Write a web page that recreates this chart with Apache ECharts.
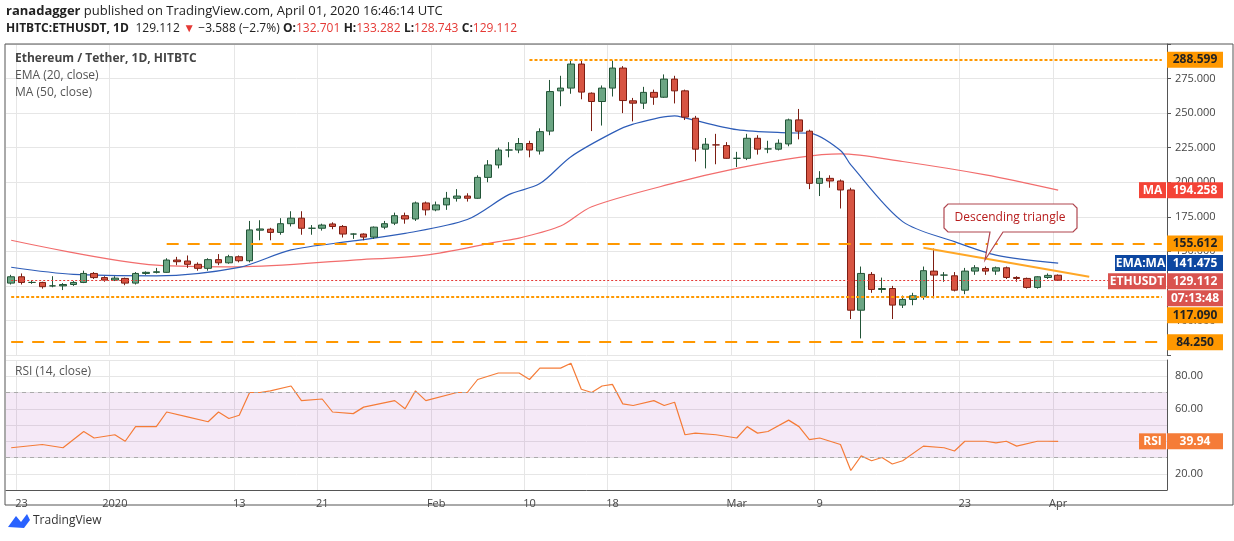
<!DOCTYPE html>
<html><head><meta charset="utf-8">
<script src="https://cdn.jsdelivr.net/npm/echarts@6/dist/echarts.min.js"></script>
<style>html,body{margin:0;padding:0;background:#fff}#main{width:1234px;height:541px}</style>
</head><body><div id="main"></div>
<script>
// daily candles Dec 22 2019 .. Apr 1 2020 : [open, close, low, high]
var candles = [
[127,131.6,126,133],[131.6,127.5,126,134],[127.5,127.5,126.5,129],[127.5,124.4,123,128],[125,125,124,132],
[125,126,122,127],[126,127.5,125,128.5],[127.5,134,127,136],[134,131,130,135],[131,129.2,128,132],
[129.2,130.6,128.5,132],[130.4,127,125.5,131],[127,134,126,135],[134,134.8,133,135.5],[134.8,135.2,134,138],
[134.8,143.7,134.5,145],[143.7,142.5,140,146],[143,140.6,138,147],[140.6,137.7,136,142],[137.7,144,136,145],
[144,141.7,140,148],[141.7,146.1,141,147.5],[146.1,143.2,142,147],[143.2,165.5,142,172],[165.3,166.2,158,172.5],
[166,163.7,158,167],[163.7,170,162,174],[170,174,168,179],[174,166.7,162,179],[166.7,166.7,162,169],
[166.7,169,165,170],[169.8,168,166,171],[168,162.5,160,169],[162.5,162.5,159,163],[162.5,160.3,158,163],
[160.3,167.5,159,168],[167.5,170,166,172],[170.4,175.8,169,178],[175.8,173.4,170,178],[173.4,185,172,186],
[185,180,176,186],[180,183.6,179,186],[183.6,188.4,180,193],[188.4,190,186,195],[190,188.4,186,192],
[188.4,203.5,188,205],[203.5,212.5,200,216],[212.5,223.3,210,225],[223.3,223.3,218,229],[223.3,228,221,232],
[228,223.3,218,230],[222.6,236.6,220,239],[237,265.6,234,274],
[266.1,268.1,255,277],[268.1,285.5,264,288.6],[285.5,265.2,260,288.6],[264.4,258.4,237,265],[258.4,268.1,241,270],
[268.1,282.6,262,288],[282.6,259.1,250,284],[258.9,257.2,244,261],[257.2,265,253,269],[265,261.5,256,267],
[261.5,274.6,261,278],[274.6,266.1,257,277],[266.1,247.1,245,267],[246.3,223.9,215,248],[223.9,227.5,210,232],
[227,227,213,235],[226.5,217.3,217,229],[217.3,217.3,211,222],[217.3,231.8,216,235],[231.8,223.9,220,234],
[224.1,224.1,221,230],[223.9,228.2,223,231],[227.7,245.1,226,246],[245.1,236.9,231,253],[236.9,199.2,195,238],
[199.2,202.8,190,208],[202.8,200.9,196,205],[200.9,194.4,181,202],[194.4,107.4,101,196],[107.4,134,87,139],
[133.3,122.4,120,135],[122.4,123.1,120,131],[123.1,111.1,101,125],[111.1,115.2,109,118],[115.2,117.8,111,120],
[117.1,136,115,139],[135.7,132.8,116,152],[132.8,132.8,128,135],[132.3,121.9,121,135],[121.9,135.7,119,138],
[135.7,138.1,133,140],[137.6,135.7,133,139],[135.7,138.1,133,139],[138.1,131.1,130,139],[131.1,130.4,128,132],
[130.4,123.9,123,131],[123.9,131.6,123,132],[131.1,132.6,130,134],[132.701,129.112,128.743,133.282]
];
var startDate = new Date(2019, 11, 22);
var totalDays = 112;
// EMA(20) and MA(50): [dayIndex, value]
var emaPoints = [[0,138.5],[6,133.3],[14,132.3],[22,138.4],[27,151],[33,157.5],[38,163],[44,173],[48,191],[51,199],[54,218.5],[58,235.7],[60,242],[64,248],[65,246.5],[70,238],[75,235.7],[77,235.5],[80,223],[81,212.5],[86,171.5],[91,157],[95,147.3],[101,141.475]];
var maPoints = [[0,158],[14,140],[22,138.8],[33,143.7],[40,147.3],[47,157],[49,159.6],[53,168.3],[56,182.3],[64,199.5],[70,210],[76,218],[80,220.5],[86,215],[94,205.3],[101,194.258]];
var rsiPoints = [[0,36],[3,38],[5,36],[7,38],[7,46],[8,42],[10,44],[11,40],[12,49],[14,49],[15,58],[17,55],[19,52],[20,58],[21,54],[22,56],[23,70],[24,70],[25,71],[27,74],[28,65],[30,66],[31,58],[33,57],[34,61],[37,65],[38,60],[39,71],[40,65],[43,70],[44,70],[45,78],[47,82],[49,82],[50,78],[51,85],[53,85],[54,88],[55,72],[56,70],[57,74],[58,75],[59,63],[60,62],[62,65],[63,62],[64,64],[65,44],[66,45],[68,44],[70,42],[71,49],[72,45],[73,46],[75,53],[76,49],[77,41],[78,42],[80,38],[81,22],[82,31],[83,28],[84,30],[85,26],[86,28],[88,37],[90,36],[91,34],[92,40],[94,40],[95,39],[96,40],[97,37],[99,40],[100,40],[101,39.94]];
var levelLines = [288.599, 155.612, 117.090, 84.250];
var triangle = [[88, 152.6], [104, 131.6]];
var xLabelDays = {1:'23',10:'2020',22:'13',30:'21',41:'Feb',50:'10',58:'18',70:'Mar',78:'9',92:'23',101:'Apr'};

var dates = [];
for (var i = 0; i < totalDays; i++) {
    var d = new Date(startDate.getTime() + i * 86400000);
    dates.push((d.getMonth()+1) + '/' + d.getDate());
}
function toSeries(points) {
    var arr = [];
    for (var i = 0; i < totalDays; i++) arr.push(null);
    points.forEach(function(p){ arr[p[0]] = p[1]; });
    return arr;
}
var candleData = candles.map(function(c){ return c; });
while (candleData.length < totalDays) candleData.push('-');

var orange = '#ff9800';
var gridLine = {show:true, lineStyle:{color:'#e6e6e6'}};
var labelFn = function(idx){ return xLabelDays[idx] !== undefined; };

var myChart = echarts.init(document.getElementById('main'));
var option = {
    animation: false,
    textStyle: {fontFamily: 'Open Sans'},
    grid: [
        {left: 6, right: 67, top: 44, height: 311},
        {left: 6, right: 67, top: 360, height: 130}
    ],
    xAxis: [
        {type:'category', data:dates, gridIndex:0, boundaryGap:true,
         axisLine:{show:false}, axisTick:{show:false}, axisLabel:{show:false},
         splitLine:{show:true, interval:labelFn, lineStyle:{color:'#e6e6e6'}}},
        {type:'category', data:dates, gridIndex:1, boundaryGap:true,
         axisLine:{lineStyle:{color:'#555'}}, axisTick:{show:false},
         axisLabel:{interval:labelFn, formatter:function(v, idx){ return xLabelDays[idx] || ''; }, color:'#444', fontSize:11, margin:8},
         splitLine:{show:true, interval:labelFn, lineStyle:{color:'#e6e6e6'}}}
    ],
    yAxis: [
        {type:'value', gridIndex:0, position:'right', min:75, max:300, interval:25,
         axisLine:{show:true, lineStyle:{color:'#555'}}, axisTick:{show:true, length:4, lineStyle:{color:'#555'}},
         axisLabel:{color:'#444', fontSize:11, margin:8, formatter:function(v){ return (v <= 75 || v >= 300) ? '' : v.toFixed(3); }},
         splitLine:gridLine},
        {type:'value', gridIndex:1, position:'right', min:10, max:90, interval:10,
         axisLine:{show:true, lineStyle:{color:'#555'}}, axisTick:{show:false},
         axisLabel:{color:'#444', fontSize:11, margin:8, formatter:function(v){ return (v % 20 === 0 && v > 10 && v < 90) ? v.toFixed(2) : ''; }},
         splitLine:{show:true, interval:0, lineStyle:{color:'#e6e6e6'}}}
    ],
    series: [
        {type:'line', name:'MA', data:toSeries(maPoints), connectNulls:true, symbol:'none', smooth:0.3,
         lineStyle:{color:'#f26d6d', width:1.2}, z:2},
        {type:'line', name:'EMA', data:toSeries(emaPoints), connectNulls:true, symbol:'none', smooth:0.3,
         lineStyle:{color:'#2e5db8', width:1.2}, z:2},
        {type:'candlestick', name:'ETHUSDT', data:candleData, barWidth:7, z:3,
         itemStyle:{color:'#6ba583', color0:'#d75442', borderColor:'#225437', borderColor0:'#7d1d12', borderWidth:1},
         markLine:{symbol:'none', silent:true, label:{show:false},
            data:[
              [{coord:[50, levelLines[0]], lineStyle:{type:[3,2], color:orange, width:2}}, {coord:[totalDays-1, levelLines[0]]}],
              [{coord:[15, levelLines[1]], lineStyle:{type:[12,9], color:orange, width:2}}, {coord:[totalDays-1, levelLines[1]]}],
              [{coord:[0, levelLines[2]], lineStyle:{type:[3,2], color:orange, width:2}}, {coord:[totalDays-1, levelLines[2]]}],
              [{coord:[0, levelLines[3]], lineStyle:{type:[12,9], color:orange, width:2}}, {coord:[totalDays-1, levelLines[3]]}],
              [{coord:[0, 129.112], lineStyle:{type:[2,2], color:'#e53935', width:1}}, {coord:[totalDays-1, 129.112]}],
              [{coord:triangle[0], lineStyle:{type:'solid', color:'#ffa726', width:2}}, {coord:triangle[1]}]
            ]}},
        {type:'line', name:'RSI', xAxisIndex:1, yAxisIndex:1, data:toSeries(rsiPoints), connectNulls:true, symbol:'none',
         lineStyle:{color:'#f57c38', width:1.2}, z:3,
         markArea:{silent:true, itemStyle:{color:'rgba(156,39,176,0.10)'}, data:[[{yAxis:70},{yAxis:30}]]},
         markLine:{symbol:'none', silent:true, label:{show:false}, lineStyle:{type:[4,4], color:'#aaa', width:1},
            data:[{yAxis:70},{yAxis:30}]}}
    ]
};
myChart.setOption(option);

function py(v){ return myChart.convertToPixel({yAxisIndex:0}, v); }
function ry(v){ return myChart.convertToPixel({yAxisIndex:1}, v); }
function box(x, y, w, text, bg, fg){
    return [
      {type:'rect', shape:{x:x, y:y-8, width:w, height:16}, style:{fill:bg}, z:20},
      {type:'text', x:x+w/2, y:y, style:{text:text, fill:fg||'#fff', font:'bold 12px "Open Sans"', align:'center', verticalAlign:'middle'}, z:21}
    ];
}
function valBox(y, text, bg, fg){ return box(1167, y, 56, text, bg, fg); }
var g = [];
g.push({type:'rect', shape:{x:5, y:44, width:1228, height:461}, style:{fill:'none', stroke:'#555', lineWidth:1}, z:1});
g = g.concat(valBox(py(288.599), '288.599', orange, '#222'));
g = g.concat(valBox(py(155.612), '155.612', orange, '#222'));
g = g.concat(valBox(py(129.112)+35, '117.090', orange, '#222'));
g = g.concat(valBox(py(84.25), '84.250', orange, '#222'));
g = g.concat(box(1139, py(194.258), 27, 'MA', '#f44336'));
g = g.concat(valBox(py(194.258), '194.258', '#f44336'));
g = g.concat(box(1115, py(141.475), 51, 'EMA:MA', '#0d47a1'));
g = g.concat(valBox(py(141.475), '141.475', '#0d47a1'));
g = g.concat(box(1108, py(129.112)+1, 58, 'ETHUSDT', '#d9534f'));
g = g.concat(valBox(py(129.112)+1, '129.112', '#d9534f'));
g = g.concat(valBox(py(129.112)+18, '07:13:48', '#d9534f'));
g = g.concat(box(1139, ry(39.94), 27, 'RSI', '#f57c38'));
g = g.concat(valBox(ry(39.94), '39.94', '#f57c38'));
// legend texts
g.push({type:'text', x:15, y:53, style:{text:'Ethereum / Tether, 1D, HITBTC', fill:'#444', font:'bold 12px "Open Sans"'}, z:10});
g.push({type:'text', x:15, y:70, style:{text:'EMA (20, close)', fill:'#555', font:'12px "Open Sans"'}, z:10});
g.push({type:'text', x:15, y:87, style:{text:'MA (50, close)', fill:'#555', font:'12px "Open Sans"'}, z:10});
g.push({type:'text', x:15, y:366, style:{text:'RSI (14, close)', fill:'#555', font:'12px "Open Sans"'}, z:10});
// header
g.push({type:'text', x:6, y:5, style:{rich:{b:{font:'bold 13px "Open Sans"', fill:'#222'}, n:{font:'13px "Open Sans"', fill:'#222'}},
    text:'{b|ranadagger} {n|published on TradingView.com, April 01, 2020 16:46:14 UTC}'}});
g.push({type:'text', x:6, y:23, style:{rich:{b:{font:'bold 12px "Open Sans"', fill:'#222'}, n:{font:'12px "Open Sans"', fill:'#222'}, r:{font:'12px "Open Sans"', fill:'#e53935'}},
    text:'{b|HITBTC:ETHUSDT, 1D}  {n|129.112} {r|▼} {n|−3.588 (−2.7%)} {b|O:}{r|132.701} {b|H:}{r|133.282} {b|L:}{r|128.743} {b|C:}{r|129.112}'}});
// annotation
g.push({type:'polygon', shape:{points:[[948,204],[1073,204],[1077,208],[1077,228],[1073,232],[1003,232],[985,260],[990,232],[948,232],[944,228],[944,208]]},
    style:{fill:'#fff', stroke:'#b0464f', lineWidth:1.2}, z:15});
g.push({type:'text', x:1010, y:218, style:{text:'Descending triangle', fill:'#b71c1c', font:'12px "Open Sans"', align:'center', verticalAlign:'middle'}, z:16});
// logo
g.push({type:'polygon', shape:{points:[[8,527],[16,516],[21,522],[27,514],[30,520],[24,528]]}, style:{fill:'#2962ff'}});
g.push({type:'text', x:33, y:515, style:{text:'TradingView', fill:'#333', font:'12px "Open Sans"'}});
myChart.setOption({graphic: g});
</script>
</body></html>
